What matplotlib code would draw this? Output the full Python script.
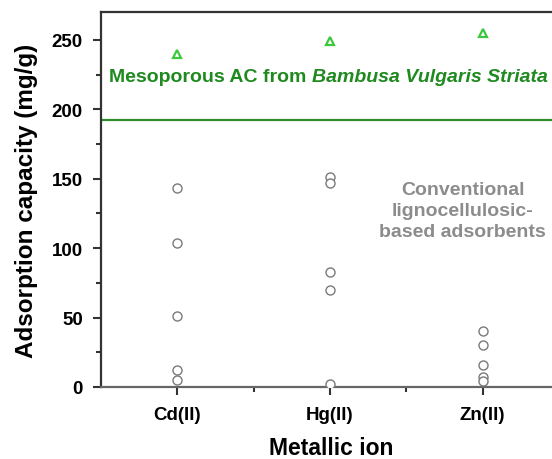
import numpy as np
import matplotlib
matplotlib.use("Agg")
import matplotlib.pyplot as plt
from matplotlib.ticker import MultipleLocator, FixedLocator

plt.rcParams['font.family'] = ['Liberation Sans', 'DejaVu Sans']
plt.rcParams['font.weight'] = 'bold'

ions = ['Cd(II)', 'Hg(II)', 'Zn(II)']

# conventional lignocellulosic adsorbents (mg/g)
cd_conv = [143, 104, 51, 12, 5]
hg_conv = [151, 147, 83, 69.5, 2.5]
zn_conv = [40, 30.5, 15.5, 7, 4.5]

# mesoporous AC from Bambusa Vulgaris Striata (mg/g)
meso_ac = [240, 249, 255]
threshold = 192

fig = plt.figure(figsize=(5.52, 4.6), dpi=100)
ax = fig.add_axes([101 / 552, 72 / 460, 458 / 552, 375 / 460])

x = np.arange(1, len(ions) + 1)
for xi, vals in zip(x, [cd_conv, hg_conv, zn_conv]):
    ax.plot([xi] * len(vals), vals, 'o', ms=6.5, mfc='white', mec='#7a7a7a', mew=1.0,
            ls='none', zorder=3)

ax.plot(x, meso_ac, '^', ms=6, mfc='none', mec='#3cc83c', mew=1.6, ls='none', zorder=3)
ax.axhline(threshold, color='#2e8b2e', lw=1.6, zorder=2)

t1 = ax.text(0.555, 220, 'Mesoporous AC from ', color='#1f8a1f', fontsize=14,
             fontweight='bold', va='baseline', ha='left')
ax.annotate('Bambusa Vulgaris Striata', xy=(1, 0), xycoords=t1, color='#1f8a1f',
            fontsize=14, fontweight='bold', fontstyle='italic', va='bottom', ha='left')

ax.text(2.87, 127, 'Conventional\nlignocellulosic-\nbased adsorbents', color='#8c8c8c',
        fontsize=14, fontweight='bold', ha='center', va='center', linespacing=1.3)

ax.set_xlim(0.5, 3.5)
ax.set_ylim(0, 270)
ax.set_xticks(x)
ax.set_xticklabels(ions)
ax.xaxis.set_minor_locator(FixedLocator([1.5, 2.5]))
ax.yaxis.set_major_locator(MultipleLocator(50))
ax.yaxis.set_minor_locator(MultipleLocator(25))

ax.tick_params(axis='both', which='major', direction='out', length=6, width=1.5,
               labelsize=13.5, color='#333333')
ax.tick_params(axis='both', which='minor', direction='out', length=3.5, width=1.5,
               color='#333333')
ax.tick_params(axis='y', which='major', pad=7)
ax.tick_params(axis='x', which='major', pad=8)
for lab in ax.get_xticklabels() + ax.get_yticklabels():
    lab.set_fontweight('bold')

for side in ['left', 'top', 'right']:
    ax.spines[side].set_color('#333333')
    ax.spines[side].set_linewidth(1.6)
ax.spines['bottom'].set_color('#666666')
ax.spines['bottom'].set_linewidth(1.6)

ax.set_ylabel('Adsorption capacity (mg/g)', fontsize=17.5, fontweight='bold', labelpad=10)
ax.set_xlabel('Metallic ion', fontsize=16.5, fontweight='bold')
ax.xaxis.set_label_coords((331 - 101) / 458, -0.13)

fig.savefig('out.png', dpi=100)
